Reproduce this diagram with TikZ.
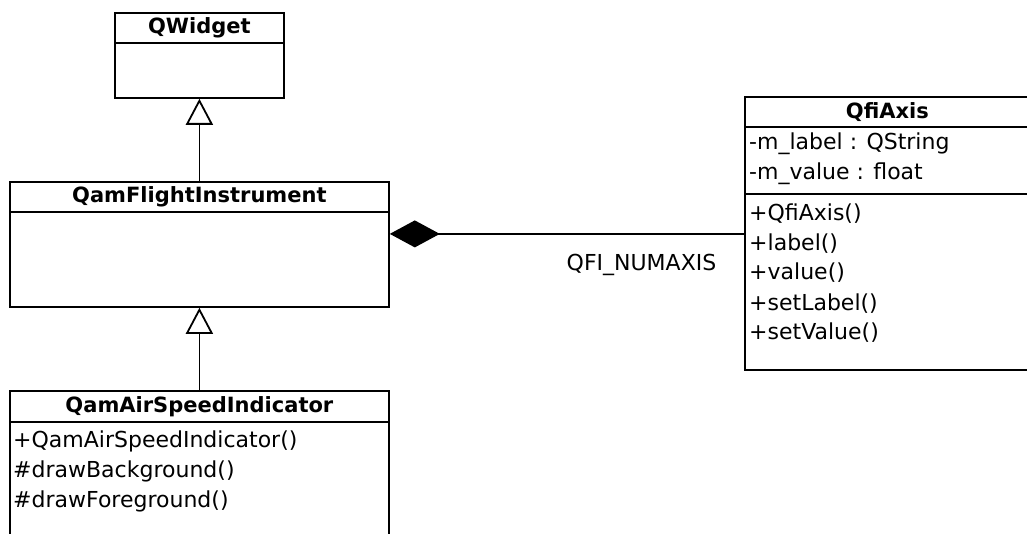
\documentclass[tikz,border=0pt]{standalone}
\usepackage{fontspec}
\setmainfont{DejaVu Sans}
\usetikzlibrary{arrows.meta}
\begin{document}
\begin{tikzpicture}[x=1pt,y=-1pt,
  box/.style={draw, line width=1.8pt, rectangle, inner sep=0pt, anchor=north west},
  ttl/.style={font=\bfseries\fontsize{21}{25}\selectfont},
  txt/.style={font=\fontsize{22}{26}\selectfont, anchor=base west, inner sep=0pt},
  inh/.style={-{Triangle[open,width=27pt,length=26pt]}, line width=1.8pt},
  comp/.style={{Diamond[width=27pt,length=50pt]}-, line width=1.8pt}]
\path[use as bounding box] (0,0) rectangle (1027,534);
\clip (0,0) rectangle (1027,534);
\fill[white] (0,0) rectangle (1027,534);

% QWidget
\node[box, ttl, minimum width=169pt, minimum height=30pt] (qwT) at (114,12) {QWidget};
\node[box, minimum width=169pt, minimum height=55pt] (qwB) at (114,42) {};

% QamFlightInstrument
\node[box, ttl, minimum width=379pt, minimum height=30pt] (fiT) at (9,181) {QamFlightInstrument};
\node[box, minimum width=379pt, minimum height=95pt] (fiB) at (9,211) {};

% QamAirSpeedIndicator
\node[box, ttl, minimum width=379pt, minimum height=31pt] (asT) at (9,390) {QamAirSpeedIndicator};
\node[box, minimum width=379pt, minimum height=200pt] (asB) at (9,421) {};
\node[txt] (as1) at (13,447) {+QamAirSpeedIndicator()};
\node[txt] (as2) at (13,477) {\#drawBackground()};
\node[txt] (as3) at (13,507) {\#drawForeground()};

% QfiAxis
\node[box, ttl, minimum width=285pt, minimum height=30pt] (qfT) at (744,96) {QfiAxis};
\node[box, minimum width=285pt, minimum height=67pt] (qfA) at (744,126) {};
\node[box, minimum width=285pt, minimum height=176pt] (qfO) at (744,193) {};
\node[txt] (qa1) at (749,150) {-m\_label : QString};
\node[txt] (qa2) at (749,180) {-m\_value : float};
\node[txt] (qo1) at (749,221) {+QfiAxis()};
\node[txt] (qo2) at (749,250.5) {+label()};
\node[txt] (qo3) at (749,280) {+value()};
\node[txt] (qo4) at (749,310) {+setLabel()};
\node[txt] (qo5) at (749,339.5) {+setValue()};

% connectors
\draw[inh] (fiT.north) -- (qwB.south);
\draw[inh] (asT.north) -- (fiB.south);
\coordinate (cL) at ([yshift=25.5pt]fiB.east);
\coordinate (cR) at (cL -| qfO.west);
\draw[comp] (cL) -- (cR);
\node[txt, anchor=center] (mult) at (641.5,265) {QFI\_NUMAXIS};
\end{tikzpicture}
\end{document}
